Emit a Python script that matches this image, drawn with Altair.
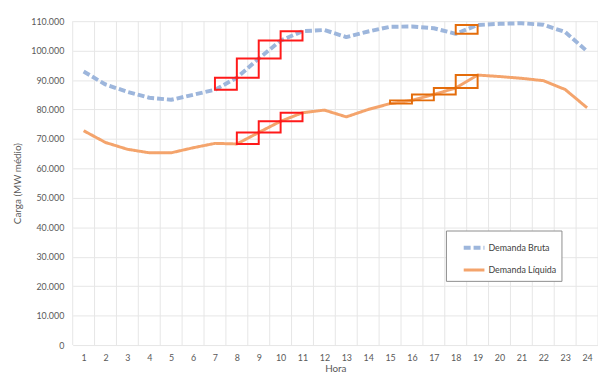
import altair as alt
import pandas as pd

hours = list(range(1, 25))
bruta = [92900, 88500, 86000, 84000, 83300, 85000, 86700, 90800, 97300, 103400,
         106600, 107000, 104600, 106500, 108100, 108200, 107600, 105700, 108700,
         109100, 109300, 108800, 106300, 99800]
liquida = [72800, 68800, 66500, 65300, 65300, 67000, 68500, 68300, 72200, 76000,
           78900, 79800, 77500, 80000, 82000, 83100, 85100, 87300, 91700, 91200,
           90600, 89800, 86800, 80600]
series_names = ["Demanda Bruta", "Demanda Líquida"]
series_colors = ["#9DB6DC", "#F4A46C"]

# ramp boxes: (series, start hour, colour)
box_series = ["Demanda Bruta"] * 4 + ["Demanda Líquida"] * 3 + ["Demanda Líquida"] * 4 + ["Demanda Bruta"]
box_start = [7, 8, 9, 10, 8, 9, 10, 15, 16, 17, 18, 18]
box_color = ["red"] * 7 + ["orange"] * 5

hour_edges = [h + 0.5 for h in range(0, 25)]
y_ticks = list(range(0, 110001, 10000))

rows = []
for h, b, l in zip(hours, bruta, liquida):
    rows.append({"hora": h, "valor": b, "serie": series_names[0]})
    rows.append({"hora": h, "valor": l, "serie": series_names[1]})
df = pd.DataFrame(rows)

vals = {series_names[0]: bruta, series_names[1]: liquida}
box_rows = []
for s, h, c in zip(box_series, box_start, box_color):
    box_rows.append({"x1": h, "x2": h + 1, "y1": vals[s][h - 1], "y2": vals[s][h], "cor": c})
boxes = pd.DataFrame(box_rows)
edges = pd.DataFrame({"e": hour_edges})

FONT = "Lato"
xscale = alt.Scale(domain=[0.5, 24.5], nice=False, zero=False)
yscale = alt.Scale(domain=[0, 110000], nice=False)

xaxis = alt.Axis(values=hours, grid=False, ticks=False, domain=False,
                 labelPadding=9, title="Hora", titlePadding=1,
                 labelFlush=False, labelOverlap=False)
yaxis = alt.Axis(values=y_ticks, grid=True, gridColor="#E6E6E6", ticks=False,
                 domain=False, labelPadding=9, labelOverlap=False,
                 labelExpr="replace(format(datum.value, ','), ',', '.')",
                 title="Carga (MW médio)", titlePadding=8)

grid = alt.Chart(edges).mark_rule(color="#E6E6E6", strokeWidth=1).encode(
    x=alt.X("e:Q", scale=xscale, axis=xaxis)
)

lines = alt.Chart(df).mark_line(strokeCap="butt", strokeJoin="round").encode(
    x=alt.X("hora:Q", scale=xscale, axis=xaxis),
    y=alt.Y("valor:Q", scale=yscale, axis=yaxis),
    color=alt.Color("serie:N", scale=alt.Scale(domain=series_names, range=series_colors),
                    legend=alt.Legend(title=None)),
    strokeDash=alt.StrokeDash("serie:N", scale=alt.Scale(domain=series_names, range=[[7, 3], [1, 0]]),
                              legend=alt.Legend(title=None)),
    strokeWidth=alt.StrokeWidth("serie:N", scale=alt.Scale(domain=series_names, range=[4, 3]),
                                legend=None),
    order="hora:Q",
)

rects = alt.Chart(boxes).mark_rect(filled=False, strokeWidth=2).encode(
    x=alt.X("x1:Q", scale=xscale, axis=xaxis),
    x2="x2:Q",
    y=alt.Y("y1:Q", scale=yscale, axis=yaxis),
    y2="y2:Q",
    stroke=alt.Stroke("cor:N", scale=alt.Scale(domain=["red", "orange"], range=["#FF1A1A", "#E46C0A"]),
                      legend=None),
)

chart = alt.layer(grid, lines, rects).properties(
    width=532, height=328,
    autosize=alt.AutoSizeParams(type="none"),
    padding={"left": 65.5, "top": 11, "right": 0, "bottom": 30},
).configure_view(stroke=None).configure_axis(
    labelFont=FONT, labelFontSize=9, labelColor="#595959",
    titleFont=FONT, titleFontSize=10, titleColor="#595959", titleFontWeight="normal",
).configure_legend(
    orient="none", legendX=378, legendY=212,
    strokeColor="#8C8C8C", strokeWidth=1, fillColor="white", padding=5,
    symbolOffset=11, symbolType="stroke", symbolSize=441, symbolStrokeWidth=3,
    labelFont=FONT, labelFontSize=9, labelColor="#404040", labelOffset=2,
    rowPadding=2,
)

chart.save("out.html", embed_options={"renderer": "svg", "actions": False})
